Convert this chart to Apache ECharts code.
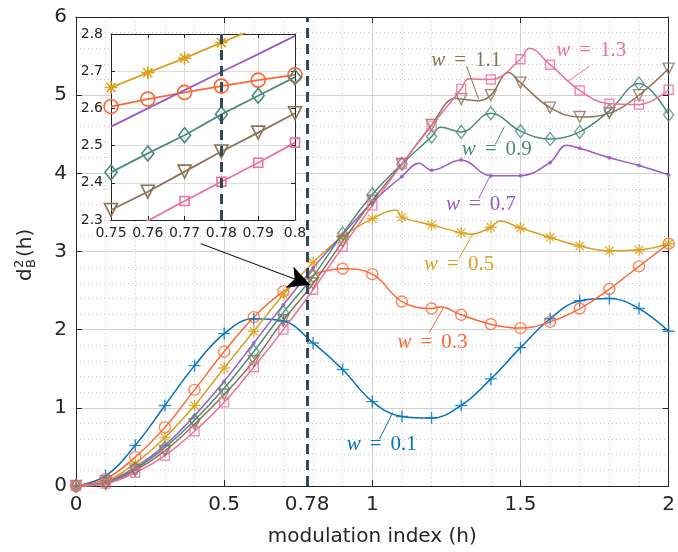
<!DOCTYPE html>
<html><head><meta charset="utf-8">
<script src="https://cdn.jsdelivr.net/npm/echarts@6/dist/echarts.min.js"></script>
<style>html,body{margin:0;padding:0;background:#fff}#c{width:678px;height:552px}</style>
</head><body><div id="c"></div>
<script>
// ---------- data ----------
const xMarkers = [0,0.1,0.2,0.3,0.4,0.5,0.6,0.7,0.8,0.9,1.0,1.1,1.2,1.3,1.4,1.5,1.6,1.7,1.8,1.9,2.0];
const wNames = ['0.1','0.3','0.5','0.7','0.9','1.1','1.3'];
const w01 = [0,0.13,0.52,1.03,1.54,1.95,2.14,2.11,1.83,1.49,1.08,0.89,0.87,1.03,1.37,1.77,2.14,2.37,2.40,2.27,1.98];
const w03 = [0,0.09,0.37,0.75,1.23,1.72,2.16,2.49,2.69,2.78,2.71,2.36,2.27,2.19,2.07,2.02,2.10,2.27,2.52,2.81,3.10];
const w05 = [0,0.06,0.29,0.62,1.03,1.51,1.98,2.45,2.86,3.19,3.42,3.44,3.34,3.24,3.31,3.30,3.18,3.07,3.01,3.02,3.10];
const w07 = [0,0.05,0.24,0.52,0.90,1.34,1.83,2.32,2.79,3.22,3.63,3.96,4.04,4.17,3.97,3.97,4.14,4.32,4.20,4.10,3.98];
const w09 = [0,0.04,0.22,0.49,0.84,1.25,1.72,2.22,2.68,3.23,3.73,4.12,4.47,4.53,4.77,4.54,4.44,4.53,4.80,5.15,4.75];
const w11 = [0,0.03,0.20,0.45,0.79,1.17,1.60,2.12,2.59,3.13,3.65,4.12,4.62,4.95,5.00,5.16,4.84,4.72,4.77,5.00,5.34];
const w13 = [0,0.03,0.17,0.39,0.70,1.07,1.52,2.00,2.51,3.06,3.59,4.12,4.61,5.08,5.20,5.46,5.39,5.06,4.89,4.88,5.07];
// extra curve points between markers (kinks / extrema)
const k01 = [];
const k03 = [[0.82,2.73],[1.23,2.29]];
const k05 = [[1.08,3.53],[1.33,3.22],[1.43,3.39]];
const k07 = [[1.158,4.13],[1.655,4.36]];
const k09 = [[1.23,4.59]];
const k11 = [[1.28,4.96],[1.36,4.93],[1.46,5.29]];
const k13 = [[1.325,5.21],[1.53,5.60]];
// inset (zoom 0.75 .. 0.80)
const insetX = [0.75,0.76,0.77,0.78,0.79,0.80];
const inset03 = [2.605,2.625,2.643,2.660,2.676,2.690];
const inset05 = [2.656,2.696,2.735,2.777,2.818,2.858];
const inset07 = [2.551,2.600,2.649,2.698,2.746,2.795];
const inset09 = [2.428,2.479,2.528,2.584,2.634,2.684];
const inset11 = [2.327,2.376,2.430,2.484,2.535,2.587];
const inset13 = [2.248,2.298,2.351,2.403,2.454,2.508];
const markX = 0.78;
const xTickLabelExtra = [0.78];
// annotation anchors (data space)
const labelAnchors = [[1.032,0.525],[1.203,1.83],[1.293,2.83],[1.367,3.60],[1.420,4.31],[1.317,5.44],[1.739,5.57]];
const leaderLines = [
  [[1.069,0.94],[1.024,0.60]],
  [[1.240,2.28],[1.192,1.96]],
  [[1.337,3.21],[1.292,2.91]],
  [[1.398,3.97],[1.359,3.68]],
  [[1.445,4.59],[1.415,4.37]],
  [[1.318,5.37],[1.359,4.95]],
  [[1.733,5.37],[1.661,5.18]]
];
const arrowLine = [[0.421,3.10],[0.79,2.574]];

// ---------- styles ----------
const COLORS = ['#0072BD','#FF6633','#DBA11E','#9B5CC4','#4A8C7F','#8C7356','#EE6F9D'];
const PLUS = 'path://M5,0L5,10M0,5L10,5';
const STAR = 'path://M5,0L5,10M0,5L10,5M1.5,1.5L8.5,8.5M8.5,1.5L1.5,8.5';
const MK = [
  {symbol:PLUS, size:12, isize:13},
  {symbol:'circle', size:11, isize:14},
  {symbol:STAR, size:12, isize:13},
  {symbol:'circle', size:4, isize:0, filled:true},
  {symbol:'diamond', size:[10,13], isize:[12,15]},
  {symbol:'triangle', size:11, isize:13, rotate:180},
  {symbol:'rect', size:9, isize:9}
];
const W = [w01,w03,w05,w07,w09,w11,w13];
const K = [k01,k03,k05,k07,k09,k11,k13];
const INS = [null,inset03,inset05,inset07,inset09,inset11,inset13];

const G = {left:76, top:17, width:597, height:472};
const IN = {left:111, top:34, width:184, height:186};
const AX = '#262626';
const SANS = 'DejaVu Sans';
const SERIF = 'Liberation Serif';
const DASH = {color:'#2E4A5B', width:3, type:[10,6]};

function pairs(xs, ys){ return xs.map((x,i)=>[x, ys[i]]); }
function curve(i){ return pairs(xMarkers, W[i]).concat(K[i]).sort((a,b)=>a[0]-b[0]); }
function markerStyle(i){
  const c = COLORS[i];
  return MK[i].filled ? {color:c} : {color:'rgba(0,0,0,0)', borderColor:c, borderWidth:1.4};
}

const series = [];
for (let i=0;i<7;i++){
  const c = COLORS[i];
  const rich = {
    w:{fontFamily:SERIF, fontStyle:'italic', fontSize:21, color:c},
    e:{fontFamily:SERIF, fontSize:21, color:c, padding:[0,9]},
    n:{fontFamily:SERIF, fontSize:21, color:c}
  };
  const mlData = [[{coord:leaderLines[i][0]},{coord:leaderLines[i][1]}]];
  if (i===0){
    mlData.push({xAxis:markX, lineStyle:DASH});
    mlData.push([{coord:arrowLine[0], lineStyle:{color:'#000', width:1}},
                 {coord:arrowLine[1], symbol:'arrow', symbolSize:[17,22], itemStyle:{color:'#000'}}]);
  }
  series.push({
    type:'line', xAxisIndex:0, yAxisIndex:0, data:curve(i), symbol:'none',
    smooth:0.4, lineStyle:{color:c, width:1.5}, z:2, silent:true,
    markLine:{silent:true, symbol:['none','none'], label:{show:false}, lineStyle:{color:c, width:1, type:'solid'}, data:mlData, z:4},
    markPoint:{silent:true, data:[{coord:labelAnchors[i], symbol:'circle', symbolSize:1, itemStyle:{color:'rgba(0,0,0,0)'}}],
      label:{show:true, position:'inside', formatter:'{w|w}{e|=}{n|'+wNames[i]+'}', rich:rich}, z:5}
  });
  series.push({
    type:'scatter', xAxisIndex:0, yAxisIndex:0, data:pairs(xMarkers, W[i]),
    symbol:MK[i].symbol, symbolSize:MK[i].size, symbolRotate:MK[i].rotate||0,
    itemStyle:markerStyle(i), z:3, silent:true
  });
  if (INS[i]){
    const s = {
      type:'line', xAxisIndex:3, yAxisIndex:2, data:pairs(insetX, INS[i]),
      lineStyle:{color:c, width:1.8}, z:11, silent:true, clip:true,
      showSymbol: !MK[i].filled, symbol: MK[i].filled ? 'none' : MK[i].symbol,
      symbolSize:MK[i].isize, symbolRotate:MK[i].rotate||0,
      itemStyle: Object.assign({}, markerStyle(i), {borderWidth:1.6})
    };
    if (i===1){
      s.markLine = {silent:true, symbol:['none','none'], label:{show:false}, data:[{xAxis:markX, lineStyle:DASH}], z:12};
    }
    series.push(s);
  }
}

const axisLabelMain = {fontSize:20, color:AX, fontFamily:SANS};
const option = {
  animation:false,
  backgroundColor:'#fff',
  textStyle:{fontFamily:SANS},
  grid:[
    {left:G.left, top:G.top, width:G.width, height:G.height},
    {left:IN.left, top:IN.top, width:IN.width, height:IN.height}
  ],
  xAxis:[
    {gridIndex:0, type:'value', min:0, max:2, interval:0.5, position:'bottom',
     axisLine:{onZero:false, lineStyle:{color:AX, width:1}},
     axisTick:{inside:true, length:6, lineStyle:{color:AX}},
     axisLabel:Object.assign({margin:9}, axisLabelMain),
     splitLine:{show:true, lineStyle:{color:'#d2d2d2', width:1}},
     minorTick:{show:false, splitNumber:5},
     minorSplitLine:{show:true, lineStyle:{color:'#c8c8c8', width:1, type:[1,3]}},
     name:'modulation index (h)', nameLocation:'middle', nameGap:41,
     nameTextStyle:{fontSize:20, color:AX, fontFamily:SANS}},
    {gridIndex:0, type:'value', min:0, max:2, interval:0.5, position:'top',
     axisLine:{onZero:false, lineStyle:{color:AX, width:1}},
     axisTick:{inside:true, length:6, lineStyle:{color:AX}},
     axisLabel:{show:false}, splitLine:{show:false}},
    {gridIndex:0, type:'value', min:0, max:2, position:'bottom',
     axisLine:{show:false, onZero:false},
     axisTick:{show:true, inside:true, length:6, customValues:xTickLabelExtra, lineStyle:{color:AX}},
     axisLabel:Object.assign({margin:9, customValues:xTickLabelExtra}, axisLabelMain),
     splitLine:{show:false}},
    {gridIndex:1, type:'value', min:0.75, max:0.8, interval:0.01, position:'bottom', z:10,
     axisLine:{onZero:false, lineStyle:{color:AX, width:1}},
     axisTick:{inside:true, length:4, lineStyle:{color:AX}},
     axisLabel:{fontSize:14, color:AX, fontFamily:SANS, margin:6},
     splitLine:{show:true, lineStyle:{color:'#dcdcdc', width:1}}},
    {gridIndex:1, type:'value', min:0.75, max:0.8, interval:0.01, position:'top', z:10,
     axisLine:{onZero:false, lineStyle:{color:AX, width:1}},
     axisTick:{inside:true, length:4, lineStyle:{color:AX}},
     axisLabel:{show:false}, splitLine:{show:false}}
  ],
  yAxis:[
    {gridIndex:0, type:'value', min:0, max:6, interval:1, position:'left',
     axisLine:{show:true, onZero:false, lineStyle:{color:AX, width:1}},
     axisTick:{show:true, inside:true, length:6, lineStyle:{color:AX}},
     axisLabel:Object.assign({margin:9}, axisLabelMain),
     splitLine:{show:true, lineStyle:{color:'#d2d2d2', width:1}},
     minorTick:{show:false, splitNumber:5},
     minorSplitLine:{show:true, lineStyle:{color:'#c8c8c8', width:1, type:[1,3]}}},
    {gridIndex:0, type:'value', min:0, max:6, interval:1, position:'right',
     axisLine:{show:true, onZero:false, lineStyle:{color:AX, width:1}},
     axisTick:{show:true, inside:true, length:6, lineStyle:{color:AX}},
     axisLabel:{show:false}, splitLine:{show:false}},
    {gridIndex:1, type:'value', min:2.3, max:2.8, interval:0.1, position:'left', z:10,
     axisLine:{show:true, onZero:false, lineStyle:{color:AX, width:1}},
     axisTick:{show:true, inside:true, length:4, lineStyle:{color:AX}},
     axisLabel:{fontSize:14, color:AX, fontFamily:SANS, margin:8},
     splitLine:{show:true, lineStyle:{color:'#dcdcdc', width:1}}},
    {gridIndex:1, type:'value', min:2.3, max:2.8, interval:0.1, position:'right', z:10,
     axisLine:{show:true, onZero:false, lineStyle:{color:AX, width:1}},
     axisTick:{show:true, inside:true, length:4, lineStyle:{color:AX}},
     axisLabel:{show:false}, splitLine:{show:false}}
  ],
  graphic:[
    {type:'rect', silent:true, z:9, shape:{x:IN.left, y:IN.top, width:IN.width, height:IN.height}, style:{fill:'#fff'}},
    {type:'group', x:26, y:281, rotation:Math.PI/2, silent:true, children:[
      {type:'text', x:0, y:0, style:{text:'d', font:'20px "DejaVu Sans"', fill:AX, align:'left', verticalAlign:'middle'}},
      {type:'text', x:13, y:-6, style:{text:'2', font:'13px "DejaVu Sans"', fill:AX, align:'left', verticalAlign:'middle'}},
      {type:'text', x:13, y:6, style:{text:'B', font:'13px "DejaVu Sans"', fill:AX, align:'left', verticalAlign:'middle'}},
      {type:'text', x:24, y:0, style:{text:'(h)', font:'20px "DejaVu Sans"', fill:AX, align:'left', verticalAlign:'middle'}}
    ]}
  ],
  series:series
};
const chart = echarts.init(document.getElementById('c'), null, {renderer:'canvas', width:678, height:552});
chart.setOption(option);
</script>
</body></html>
